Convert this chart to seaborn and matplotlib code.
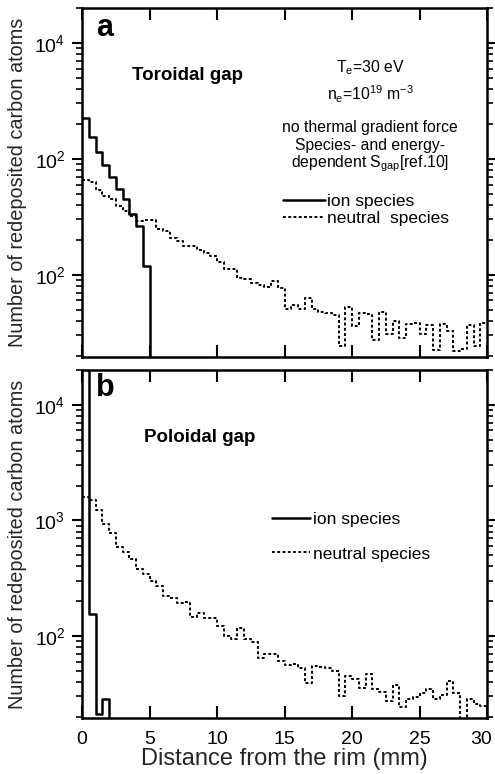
import numpy as np
import matplotlib
matplotlib.use("Agg")
import matplotlib.pyplot as plt
import matplotlib.transforms as mtransforms
import seaborn as sns
from matplotlib.ticker import FixedLocator, FixedFormatter, LogLocator, NullFormatter
from matplotlib.lines import Line2D

# ---------------- data ----------------
BIN_W = 0.5
X_MAX = 30
centers = np.arange(BIN_W / 2, X_MAX, BIN_W)

# (a) Toroidal gap
tor_ion = [2245, 1540, 1140, 890, 690, 548, 450, 336, 261, 120]
tor_neutral = [650, 630, 533, 480, 450, 394, 358, 318, 288, 294,
               294, 249, 236, 207, 194, 178, 178, 164, 154, 144,
               129, 112, 112, 94, 92, 85, 82, 78, 89, 77,
               51, 55, 51, 63, 51, 48, 47, 45, 24.4, 53,
               35.8, 46.7, 46, 27.5, 47.3, 31, 40, 28.5, 37.8, 38.4,
               31, 37, 22.5, 37.6, 33, 21.8, 22.9, 37, 24.4, 38.4]

# (b) Poloidal gap
pol_ion = [40000, 154, 21.2, 28.2]
pol_neutral = [1590, 1486, 1219, 937, 775, 585, 535, 462, 379, 341,
               299, 273, 222, 211, 191, 195, 147, 159, 142, 144,
               122, 99, 94, 116, 94, 89.5, 64, 69.6, 69.6, 61,
               56, 57, 52.7, 39, 54.5, 53.5, 52.7, 49.4, 30.5, 44.8,
               42, 35.5, 46.8, 35, 32.8, 27.3, 38, 24.2, 28.6, 29.9,
               32.2, 35, 28.2, 30.7, 40.5, 32.2, 0, 28.2, 26, 24.9]

xticks = [0, 5, 10, 15, 20, 25, 30]
yticks = [1e2, 1e3, 1e4]
tor_ytick_labels = ["$10^2$", "$10^2$", "$10^4$"]
pol_ytick_labels = ["$10^2$", "$10^3$", "$10^4$"]

series_labels = ["ion species", "neutral  species"]
series_labels_b = ["ion species", "neutral species"]
ylabel = "Number of redeposited carbon atoms"
xlabel = "Distance from the rim (mm)"
tor_notes = ["T$_\\mathrm{e}$=30 eV",
             "n$_\\mathrm{e}$=10$^{19}$ m$^{-3}$",
             "no thermal gradient force",
             "Species- and energy-",
             "dependent S$_\\mathrm{gap}$[ref.10]"]

# ---------------- style ----------------
sns.set_style("ticks")
plt.rcParams.update({
    "font.family": ["Liberation Sans", "DejaVu Sans"],
    "mathtext.fontset": "custom",
    "mathtext.rm": "Liberation Sans",
    "mathtext.it": "Liberation Sans:italic",
    "mathtext.bf": "Liberation Sans:bold",
    "axes.linewidth": 1.8,
    "axes.edgecolor": "black",
    "text.color": "black",
    "xtick.color": "black",
    "ytick.color": "black",
})

ION_LW = 1.8
NEU_LW = 1.4
NEU_LS = (0, (1.5, 1.2))

fig = plt.figure(figsize=(4.95, 7.74), dpi=100)
ax1 = fig.add_axes([82 / 495, 1 - 357 / 774, 405 / 495, 349 / 774])
ax2 = fig.add_axes([82 / 495, 1 - 718 / 774, 405 / 495, 348 / 774])


def draw(ax, ion, neu, ylabels):
    sns.histplot(x=centers[:len(ion)], weights=ion, binwidth=BIN_W,
                 binrange=(0, X_MAX), element="step", fill=False,
                 color="black", linewidth=ION_LW, ax=ax)
    sns.histplot(x=centers[:len(neu)], weights=neu, binwidth=BIN_W,
                 binrange=(0, X_MAX), element="step", fill=False,
                 color="black", linewidth=NEU_LW, linestyle=NEU_LS, ax=ax)
    ax.set_yscale("log")
    ax.set_xlim(0, X_MAX)
    ax.set_ylim(19.5, 2.0e4)
    ax.xaxis.set_major_locator(FixedLocator(xticks))
    ax.yaxis.set_major_locator(FixedLocator(yticks))
    ax.yaxis.set_major_formatter(FixedFormatter(ylabels))
    ax.yaxis.set_minor_locator(LogLocator(base=10, subs=np.arange(2, 10)))
    ax.yaxis.set_minor_formatter(NullFormatter())
    ax.tick_params(axis="x", which="major", direction="in", top=True,
                   bottom=True, length=8.5, width=1.5, labelsize=14, pad=9)
    ax.tick_params(axis="y", which="major", direction="out", left=True,
                   right=True, length=7, width=1.5, labelsize=14, pad=5)
    ax.tick_params(axis="y", which="minor", direction="out", left=True,
                   right=True, length=4.5, width=1.2)
    for s in ax.spines.values():
        s.set_visible(True)
        s.set_linewidth(1.8)
    ax.set_ylabel(ylabel, fontsize=14.3)
    ax.yaxis.set_label_coords(-0.135, 0.5)


draw(ax1, tor_ion, tor_neutral, tor_ytick_labels)
draw(ax2, pol_ion, pol_neutral, pol_ytick_labels)

ax1.set_xlabel("")
ax1.tick_params(labelbottom=False)
ax2.set_xlabel(xlabel, fontsize=17, labelpad=0)

# keep the last x tick label inside the figure
fig.canvas.draw()
last = ax2.get_xticklabels()[-1]
last.set_transform(last.get_transform() +
                   mtransforms.ScaledTranslation(-4 / 72, 0, fig.dpi_scale_trans))

# panel letters and titles
ax1.text(0.035, 0.985, "a", transform=ax1.transAxes, fontsize=22,
         fontweight="bold", va="top", ha="left")
ax2.text(0.035, 0.99, "b", transform=ax2.transAxes, fontsize=22,
         fontweight="bold", va="top", ha="left")
ax1.text(0.26, 0.808, "Toroidal gap", transform=ax1.transAxes,
         fontsize=13.5, fontweight="bold", va="center", ha="center")
ax2.text(0.291, 0.807, "Poloidal gap", transform=ax2.transAxes,
         fontsize=13.5, fontweight="bold", va="center", ha="center")

# annotations in panel a
note_y = [0.828, 0.752, 0.657, 0.606, 0.554]
for t, yy in zip(tor_notes, note_y):
    ax1.text(0.711, yy, t, transform=ax1.transAxes, fontsize=11.3,
             va="center", ha="center")

handles = [Line2D([], [], color="black", lw=ION_LW),
           Line2D([], [], color="black", lw=NEU_LW, ls=NEU_LS)]
ax1.legend(handles, series_labels, loc="upper left",
           bbox_to_anchor=(0.496, 0.467), frameon=False, fontsize=12.5,
           handlelength=2.4, handletextpad=0.15, labelspacing=0.1,
           borderpad=0, borderaxespad=0)
ax2.legend(handles, series_labels_b, loc="upper left",
           bbox_to_anchor=(0.469, 0.593), frameon=False, fontsize=12.5,
           handlelength=2.2, handletextpad=0.15, labelspacing=1.13,
           borderpad=0, borderaxespad=0)

fig.savefig("out.png", dpi=100)
